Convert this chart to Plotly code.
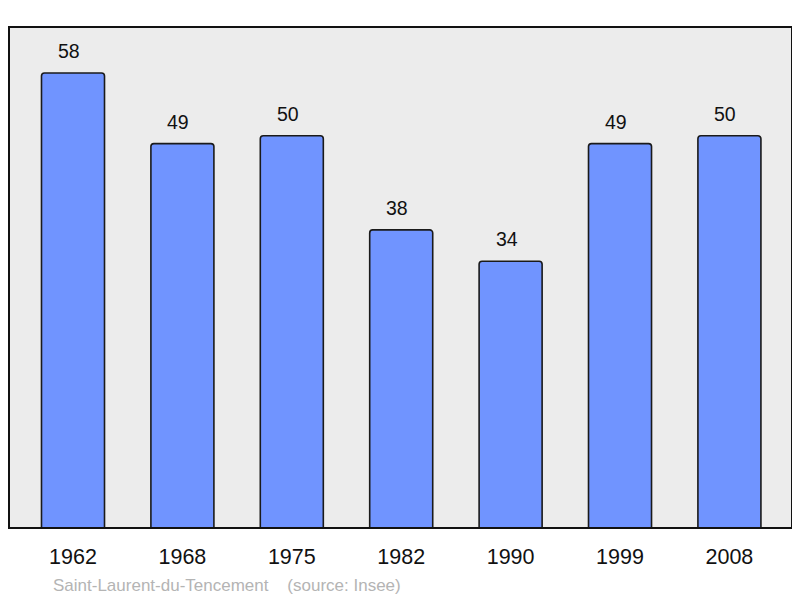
import plotly.graph_objects as go

years = ["1962", "1968", "1975", "1982", "1990", "1999", "2008"]
population = [58, 49, 50, 38, 34, 49, 50]
source_text = "Saint-Laurent-du-Tencement\u00a0\u00a0\u00a0\u00a0(source: Insee)"

# page offset from default body margin (8px)
W, H = 792, 590
L, R, T, B = 1, 8, 19, 70

fig = go.Figure()
fig.add_trace(go.Bar(
    x=list(range(len(years))), y=population,
    width=0.576,
    marker=dict(color="#7094ff", line=dict(color="#1a1a1a", width=1.6), cornerradius=3),
    hoverinfo="skip",
))

for i, v in enumerate(population):
    fig.add_annotation(x=i, y=v, text=str(v), showarrow=False, yanchor="bottom",
                       yshift=9, xshift=-4,
                       font=dict(size=19.5, color="#111111",
                                 family="Liberation Sans, Arial, sans-serif"))

plot_h = H - T - B
fig.add_annotation(xref="paper", yref="paper", x=(51 - 9) / 783, y=-(585 - 528) / plot_h,
                   xanchor="left", yanchor="middle", showarrow=False, text=source_text,
                   font=dict(size=17, color="#b4b4b4", family="Liberation Sans, Arial, sans-serif"))

fig.add_shape(type="rect", xref="paper", yref="paper", x0=0, y0=0, x1=1, y1=1,
              line=dict(color="#111111", width=2), layer="above")

fig.update_layout(
    width=W, height=H,
    margin=dict(l=L, r=R, t=T, b=B),
    paper_bgcolor="white",
    plot_bgcolor="#ececec",
    showlegend=False,
    font=dict(family="Liberation Sans, Arial, sans-serif"),
    xaxis=dict(range=[-0.585, 6.572], showgrid=False, zeroline=False,
               tickmode="array", tickvals=list(range(len(years))), ticktext=years,
               ticks="", ticklabelstandoff=13, tickfont=dict(size=21.5, color="#111111"),
               fixedrange=True),
    yaxis=dict(range=[0, 63.86], showgrid=False, zeroline=False, showticklabels=False,
               ticks="", fixedrange=True),
)

fig.write_html("out.html")
